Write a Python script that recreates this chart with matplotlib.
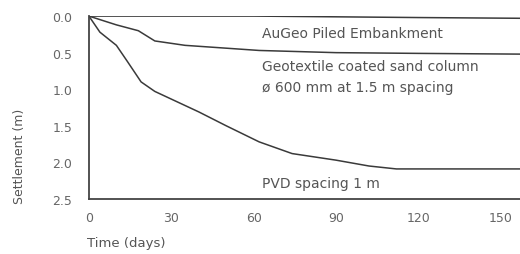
import matplotlib
matplotlib.use('Agg')
import matplotlib.pyplot as plt

# Dados (tempo em dias, recalque em m)
t_augeo = [0, 30, 60, 90, 120, 157]
s_augeo = [0.0, 0.0, 0.0, 0.01, 0.02, 0.03]

t_geotex = [0, 10, 18, 24, 35, 62, 90, 120, 157]
s_geotex = [0.0, 0.12, 0.2, 0.34, 0.40, 0.47, 0.50, 0.51, 0.52]

t_pvd = [0, 4, 10, 14, 19, 24, 40, 50, 62, 74, 90, 102, 112, 130, 157]
s_pvd = [0.0, 0.22, 0.40, 0.62, 0.90, 1.03, 1.31, 1.50, 1.72, 1.88, 1.97, 2.05, 2.09, 2.09, 2.09]

rotulos = ['AuGeo Piled Embankment',
           'Geotextile coated sand column',
           'ø 600 mm at 1.5 m spacing',
           'PVD spacing 1 m']

x_ticks = [0, 30, 60, 90, 120, 150]
y_ticks = [0.0, 0.5, 1.0, 1.5, 2.0, 2.5]

cor_linha = '#3a3a3a'
cor_texto = '#555555'

fig = plt.figure(figsize=(5.2, 2.55), dpi=100)
ax = fig.add_axes([0.171, 0.216, 0.829, 0.717])

ax.plot(t_augeo, s_augeo, color=cor_linha, lw=1.1)
ax.plot(t_geotex, s_geotex, color=cor_linha, lw=1.1)
ax.plot(t_pvd, s_pvd, color=cor_linha, lw=1.1)

# Rótulos das curvas
ax.text(63, 0.23, rotulos[0], fontsize=10, color=cor_texto, va='center')
ax.text(63, 0.68, rotulos[1], fontsize=10, color=cor_texto, va='center')
ax.text(63, 0.97, rotulos[2], fontsize=10, color=cor_texto, va='center')
ax.text(63, 2.28, rotulos[3], fontsize=10, color=cor_texto, va='center')

ax.set_xlim(0, 157)
ax.set_ylim(2.5, 0)
ax.set_xticks(x_ticks)
ax.set_yticks(y_ticks)
ax.set_yticklabels([f'{v:.1f}' for v in y_ticks])
ax.tick_params(length=0, labelsize=9, labelcolor='#666666')
ax.tick_params(axis='x', pad=9)
ax.tick_params(axis='y', pad=12)

for lado in ['top', 'right']:
    ax.spines[lado].set_visible(False)
for lado in ['left', 'bottom']:
    ax.spines[lado].set_color('#444444')
    ax.spines[lado].set_linewidth(1.3)

ax.set_ylabel('Settlement (m)', fontsize=9, color=cor_texto)
ax.yaxis.set_label_coords(-0.145, 0.24)
fig.text(0.168, 0.03, 'Time (days)', fontsize=9.5, color=cor_texto)

fig.savefig('out.png', dpi=100)
